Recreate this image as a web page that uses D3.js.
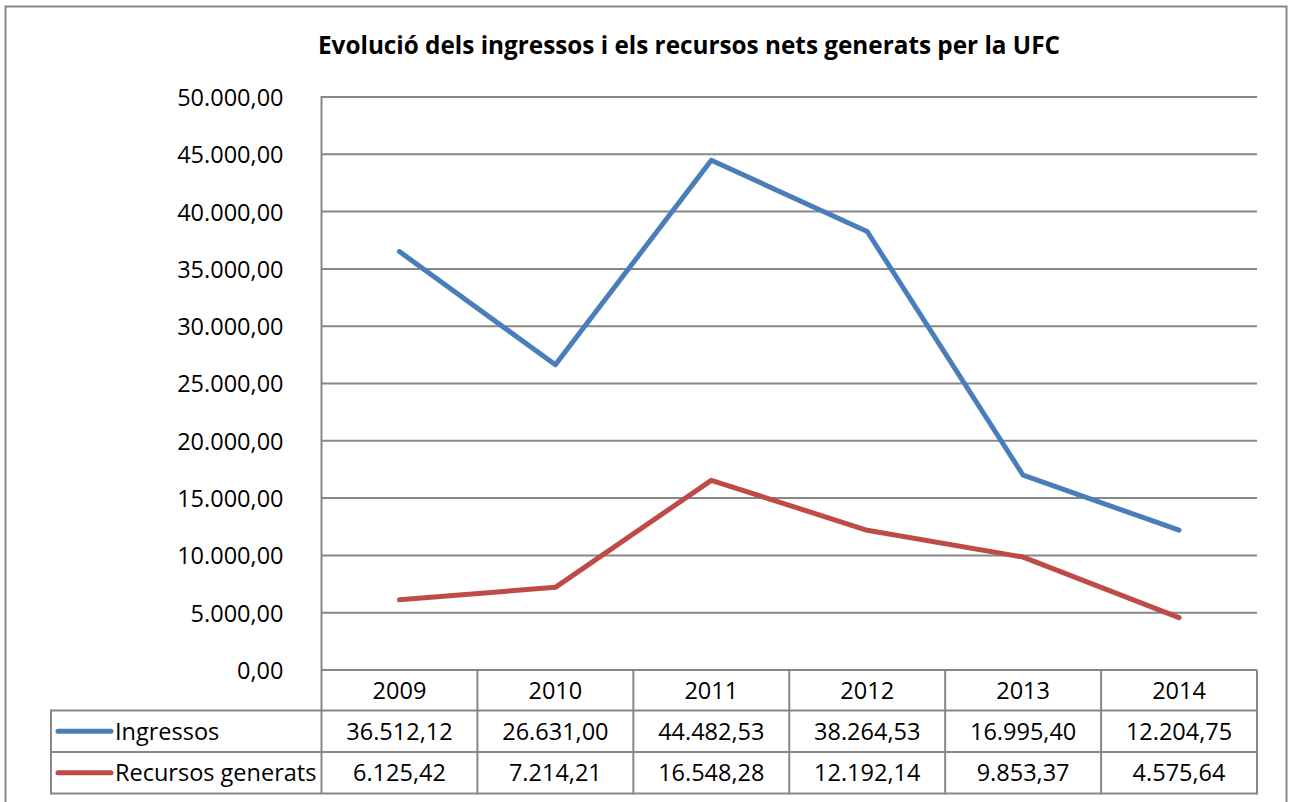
<!DOCTYPE html>
<html>
<head>
<meta charset="utf-8">
<script src="https://cdn.jsdelivr.net/npm/d3@7"></script>
<style>
  body { margin: 0; background: #fff; }
  svg { display: block; font-family: "Open Sans", sans-serif; }
</style>
</head>
<body>
<svg id="chart" width="1294" height="802"></svg>
<script>
// values
const years = ["2009", "2010", "2011", "2012", "2013", "2014"];
const ingressos = [36512.12, 26631.00, 44482.53, 38264.53, 16995.40, 12204.75];
const recursos = [6125.42, 7214.21, 16548.28, 12192.14, 9853.37, 4575.64];
const yTicks = [0, 5000, 10000, 15000, 20000, 25000, 30000, 35000, 40000, 45000, 50000];

const series = [
    { name: "Ingressos", values: ingressos, color: "#4a7ebb" },
    { name: "Recursos generats", values: recursos, color: "#be4b48" }
];

const locale = d3.formatLocale({ decimal: ",", thousands: ".", grouping: [3], currency: ["", ""] });
const fmt = locale.format(",.2f");

const plot = { left: 321.5, right: 1257, top: 97, bottom: 670 };
const tableLeft = 51;
const rowH = [670, 710.5, 752, 793.5]; // header row top, row lines
const gridColor = "#878787";
const fontSize = 23.5;

const svg = d3.select("#chart");

// outer frame
svg.append("rect")
    .attr("x", 5.5).attr("y", 6.5)
    .attr("width", 1281).attr("height", 810)
    .attr("fill", "none")
    .attr("stroke", gridColor)
    .attr("stroke-width", 2);

svg.append("text")
    .attr("x", 689).attr("y", 54)
    .attr("text-anchor", "middle")
    .attr("font-weight", "bold")
    .attr("font-size", 24.3)
    .text("Evolució dels ingressos i els recursos nets generats per la UFC");

const x = d3.scaleBand().domain(years).range([plot.left, plot.right]).padding(0);
const y = d3.scaleLinear().domain([0, 50000]).range([plot.bottom, plot.top]);

// grid
svg.append("g").selectAll("line")
    .data(yTicks)
    .join("line")
    .attr("x1", plot.left).attr("x2", plot.right)
    .attr("y1", d => y(d)).attr("y2", d => y(d))
    .attr("stroke", gridColor)
    .attr("stroke-width", 2);

// y axis
const yAxis = svg.append("g")
    .attr("transform", `translate(${plot.left},0)`)
    .call(d3.axisLeft(y).tickValues(yTicks).tickFormat(fmt).tickSize(0).tickPadding(38));
yAxis.select(".domain").remove();
yAxis.selectAll("text")
    .attr("font-family", "'Open Sans', sans-serif")
    .attr("font-size", fontSize)
    .attr("fill", "#000")
    .attr("dy", "0.36em");

svg.append("line")
    .attr("x1", plot.left).attr("x2", plot.left)
    .attr("y1", plot.top - 1).attr("y2", rowH[3])
    .attr("stroke", gridColor).attr("stroke-width", 2);

// lines
const line = d3.line()
    .x((d, i) => x(years[i]) + x.bandwidth() / 2)
    .y(d => y(d));

svg.append("g").selectAll("path")
    .data(series)
    .join("path")
    .attr("d", d => line(d.values))
    .attr("fill", "none")
    .attr("stroke", d => d.color)
    .attr("stroke-width", 5)
    .attr("stroke-linecap", "round")
    .attr("stroke-linejoin", "round");

// data table
const table = svg.append("g");
table.selectAll("line.row")
    .data(rowH.slice(1))
    .join("line")
    .attr("x1", tableLeft).attr("x2", plot.right)
    .attr("y1", d => d).attr("y2", d => d)
    .attr("stroke", gridColor).attr("stroke-width", 2);

table.append("line")
    .attr("x1", tableLeft).attr("x2", tableLeft)
    .attr("y1", rowH[1] - 1).attr("y2", rowH[3] + 1)
    .attr("stroke", gridColor).attr("stroke-width", 2);

table.selectAll("line.col")
    .data(years)
    .join("line")
    .attr("x1", d => x(d) + x.bandwidth()).attr("x2", d => x(d) + x.bandwidth())
    .attr("y1", rowH[0]).attr("y2", rowH[3] + 1)
    .attr("stroke", gridColor).attr("stroke-width", 2);

table.selectAll("text.year")
    .data(years)
    .join("text")
    .attr("x", d => x(d) + x.bandwidth() / 2)
    .attr("y", (rowH[0] + rowH[1]) / 2)
    .attr("dy", "0.36em")
    .attr("text-anchor", "middle")
    .attr("font-size", fontSize)
    .text(d => d);

series.forEach((s, r) => {
    const cy = (rowH[r + 1] + rowH[r + 2]) / 2;
    table.append("line")
        .attr("x1", 58).attr("x2", 111)
        .attr("y1", cy).attr("y2", cy)
        .attr("stroke", s.color)
        .attr("stroke-width", 5)
        .attr("stroke-linecap", "round");
    table.append("text")
        .attr("x", 115).attr("y", cy)
        .attr("dy", "0.36em")
        .attr("font-size", fontSize)
        .text(s.name);
    table.selectAll(null)
        .data(s.values)
        .join("text")
        .attr("x", (d, i) => x(years[i]) + x.bandwidth() / 2)
        .attr("y", cy)
        .attr("dy", "0.36em")
        .attr("text-anchor", "middle")
        .attr("font-size", fontSize)
        .text(d => fmt(d));
});
</script>
</body>
</html>
